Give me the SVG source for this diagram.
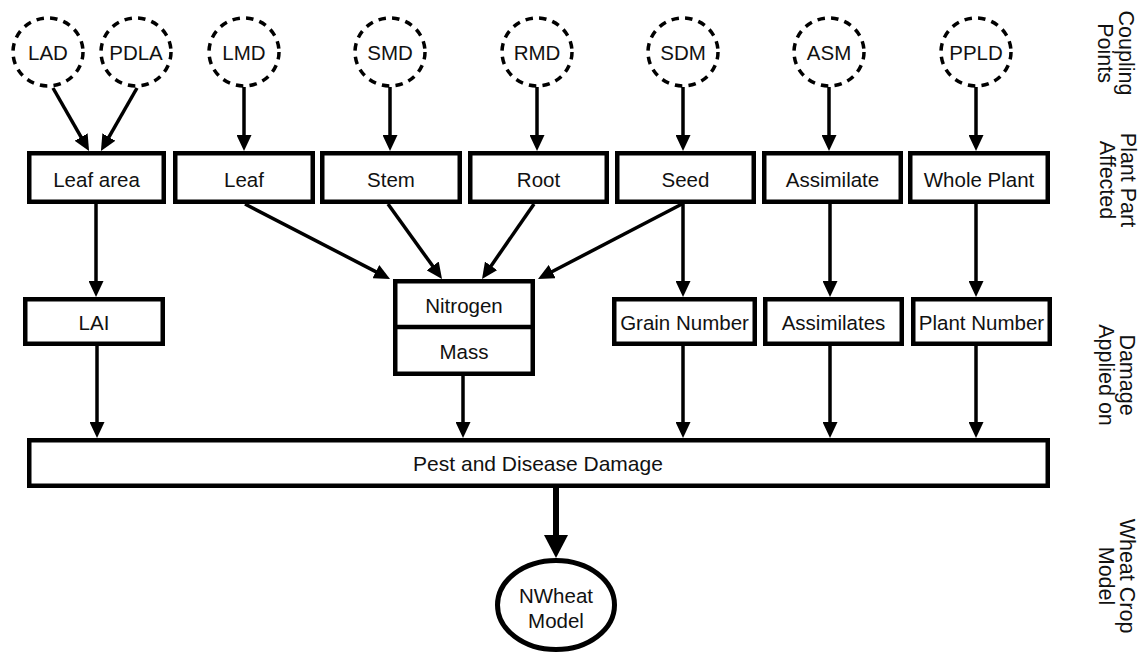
<svg xmlns="http://www.w3.org/2000/svg" width="1146" height="656" viewBox="0 0 1146 656">
<style>
  text { font-family: "Liberation Sans", Arial, sans-serif; font-size: 20.5px; fill: #111; text-anchor: middle; }
  .side { font-size: 21.5px; }
  .pest { font-size: 21px; }
  .box { fill: #fff; stroke: #000; stroke-width: 4.5; }
  .cp { fill: #fff; stroke: #000; stroke-width: 3.5; stroke-dasharray: 7.5 6.2; }
  .ln { fill: none; stroke: #000; stroke-width: 3.5; marker-end: url(#ah); }
  .big { fill: none; stroke: #000; stroke-width: 6; marker-end: url(#ahb); }
</style>
<defs>
  <marker id="ah" markerUnits="userSpaceOnUse" markerWidth="16" markerHeight="15" refX="2" refY="7.5" orient="auto" viewBox="0 0 16 15">
    <path d="M0,0 L16,7.5 L0,15 z" fill="#000"/>
  </marker>
  <marker id="ahb" markerUnits="userSpaceOnUse" markerWidth="23" markerHeight="24" refX="3" refY="12" orient="auto" viewBox="0 0 23 24">
    <path d="M0,0 L23,12 L0,24 z" fill="#000"/>
  </marker>
</defs>
<rect width="1146" height="656" fill="#fff"/>

<g id="connectors">
  <line class="ln" x1="53" y1="88" x2="82.1" y2="138.8"/>
  <line class="ln" x1="137" y1="88" x2="107.9" y2="138.8"/>
  <line class="ln" x1="244" y1="87" x2="244" y2="137"/>
  <line class="ln" x1="390" y1="87" x2="390" y2="137"/>
  <line class="ln" x1="537" y1="87" x2="537" y2="137"/>
  <line class="ln" x1="683" y1="87" x2="683" y2="137"/>
  <line class="ln" x1="829" y1="87" x2="829" y2="137"/>
  <line class="ln" x1="976" y1="87" x2="976" y2="137"/>
  <line class="ln" x1="96" y1="204" x2="96" y2="283"/>
  <line class="ln" x1="245" y1="204" x2="377.6" y2="272.6"/>
  <line class="ln" x1="388" y1="204" x2="433.8" y2="267.6"/>
  <line class="ln" x1="534" y1="204" x2="490" y2="267.5"/>
  <line class="ln" x1="682" y1="204" x2="550.4" y2="272.5"/>
  <line class="ln" x1="683" y1="204" x2="683" y2="283"/>
  <line class="ln" x1="830" y1="204" x2="830" y2="283"/>
  <line class="ln" x1="976" y1="204" x2="976" y2="283"/>
  <line class="ln" x1="97" y1="346" x2="97" y2="424"/>
  <line class="ln" x1="463" y1="376" x2="463" y2="424"/>
  <line class="ln" x1="683" y1="346" x2="683" y2="424"/>
  <line class="ln" x1="830" y1="346" x2="830" y2="424"/>
  <line class="ln" x1="976" y1="346" x2="976" y2="424"/>
  <line class="big" x1="556" y1="488" x2="556" y2="538"/>
</g>

<g id="LAD"><ellipse class="cp" cx="48" cy="52" rx="35" ry="34"/><text x="48" y="60">LAD</text></g>
<g id="PDLA"><ellipse class="cp" cx="136" cy="52" rx="35" ry="34"/><text x="136" y="60">PDLA</text></g>
<g id="LMD"><ellipse class="cp" cx="244" cy="52" rx="35" ry="34"/><text x="244" y="60">LMD</text></g>
<g id="SMD"><ellipse class="cp" cx="390" cy="52" rx="35" ry="34"/><text x="390" y="60">SMD</text></g>
<g id="RMD"><ellipse class="cp" cx="537" cy="52" rx="35" ry="34"/><text x="537" y="60">RMD</text></g>
<g id="SDM"><ellipse class="cp" cx="683" cy="52" rx="35" ry="34"/><text x="683" y="60">SDM</text></g>
<g id="ASM"><ellipse class="cp" cx="829" cy="52" rx="35" ry="34"/><text x="829" y="60">ASM</text></g>
<g id="PPLD"><ellipse class="cp" cx="976" cy="52" rx="35" ry="34"/><text x="976" y="60">PPLD</text></g>

<g id="leafarea"><rect class="box" x="29.25" y="153.25" width="134.5" height="48.5"/><text x="96.5" y="187">Leaf area</text></g>
<g id="leaf"><rect class="box" x="175.25" y="153.25" width="137.5" height="48.5"/><text x="244" y="187">Leaf</text></g>
<g id="stem"><rect class="box" x="322.25" y="153.25" width="137.5" height="48.5"/><text x="391" y="187">Stem</text></g>
<g id="root"><rect class="box" x="470.25" y="153.25" width="136.5" height="48.5"/><text x="538.5" y="187">Root</text></g>
<g id="seed"><rect class="box" x="617.25" y="153.25" width="136.5" height="48.5"/><text x="685.5" y="187">Seed</text></g>
<g id="assimilate"><rect class="box" x="764.25" y="153.25" width="136.5" height="48.5"/><text x="832.5" y="187">Assimilate</text></g>
<g id="wholeplant"><rect class="box" x="910.25" y="153.25" width="137.5" height="48.5"/><text x="979" y="187">Whole Plant</text></g>

<g id="lai"><rect class="box" x="25.25" y="299.25" width="137.5" height="44.5"/><text x="94" y="330">LAI</text></g>
<g id="nitrogenmass"><rect class="box" x="395.25" y="281.25" width="137.5" height="92.5"/><line x1="395" y1="327" x2="533" y2="327" stroke="#000" stroke-width="4.5"/><text x="464" y="313">Nitrogen</text><text x="464" y="359">Mass</text></g>
<g id="grainnumber"><rect class="box" x="614.25" y="299.25" width="140.5" height="44.5"/><text x="684.5" y="330">Grain Number</text></g>
<g id="assimilates"><rect class="box" x="765.25" y="299.25" width="136.5" height="44.5"/><text x="833.5" y="330">Assimilates</text></g>
<g id="plantnumber"><rect class="box" x="913.25" y="299.25" width="136.5" height="44.5"/><text x="981.5" y="330">Plant Number</text></g>

<g id="pest"><rect class="box" x="29.25" y="440.25" width="1018.5" height="45.5"/><text class="pest" x="538" y="471">Pest and Disease Damage</text></g>

<g id="nwheat"><ellipse cx="556" cy="605" rx="58.5" ry="44.5" fill="#fff" stroke="#000" stroke-width="5"/><text x="556" y="603">NWheat</text><text x="556" y="628">Model</text></g>

<g id="labels">
  <text class="side" transform="translate(1119,53) rotate(90)"><tspan x="0" y="0">Coupling</tspan><tspan x="0" y="21">Points</tspan></text>
  <text class="side" transform="translate(1121,180) rotate(90)"><tspan x="0" y="0">Plant Part</tspan><tspan x="0" y="21">Affected</tspan></text>
  <text class="side" transform="translate(1120,375) rotate(90)"><tspan x="0" y="0">Damage</tspan><tspan x="0" y="21">Applied on</tspan></text>
  <text class="side" transform="translate(1120,576) rotate(90)"><tspan x="0" y="0">Wheat Crop</tspan><tspan x="0" y="21">Model</tspan></text>
</g>
</svg>
